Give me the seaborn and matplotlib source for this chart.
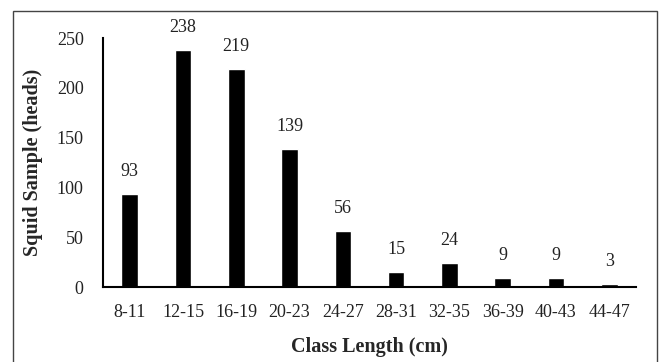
import matplotlib
matplotlib.use("Agg")
import matplotlib.pyplot as plt
import seaborn as sns
import pandas as pd
from matplotlib.patches import Rectangle

classes = ["8-11", "12-15", "16-19", "20-23", "24-27", "28-31", "32-35", "36-39", "40-43", "44-47"]
heads = [93, 238, 219, 139, 56, 15, 24, 9, 9, 3]
y_ticks = [0, 50, 100, 150, 200, 250]

sns.set_theme(style="white")
plt.rcParams["font.family"] = ["Liberation Serif", "DejaVu Serif"]

df = pd.DataFrame({"Class Length (cm)": classes, "Squid Sample (heads)": heads})

fig = plt.figure(figsize=(6.61, 3.62), dpi=100)
ax = fig.add_axes([0.156, 0.207, 0.806, 0.688])

sns.barplot(data=df, x="Class Length (cm)", y="Squid Sample (heads)",
            color="black", saturation=1, width=0.31, ax=ax)

for i, v in enumerate(heads):
    ax.text(i, v + 14, str(v), ha="center", va="bottom", fontsize=13, color="#222222")

ax.set_ylim(0, 250)
ax.set_yticks(y_ticks)
ax.set_xlim(-0.5, len(classes) - 0.5)
ax.tick_params(axis="both", length=0, labelsize=13, labelcolor="#222222")
ax.tick_params(axis="x", pad=12)
ax.tick_params(axis="y", pad=14)
ax.set_xlabel("Class Length (cm)", fontsize=14.5, fontweight="bold", labelpad=12)
ax.set_ylabel("Squid Sample (heads)", fontsize=14.5, fontweight="bold", labelpad=10)

for s in ["top", "right"]:
    ax.spines[s].set_visible(False)
for s in ["left", "bottom"]:
    ax.spines[s].set_color("black")
    ax.spines[s].set_linewidth(1.5)

fig.patches.append(Rectangle((13 / 661, -10 / 362), 644 / 661, 361 / 362,
                             transform=fig.transFigure, fill=False,
                             edgecolor="#444444", linewidth=1))

fig.savefig("out.png", dpi=100)
